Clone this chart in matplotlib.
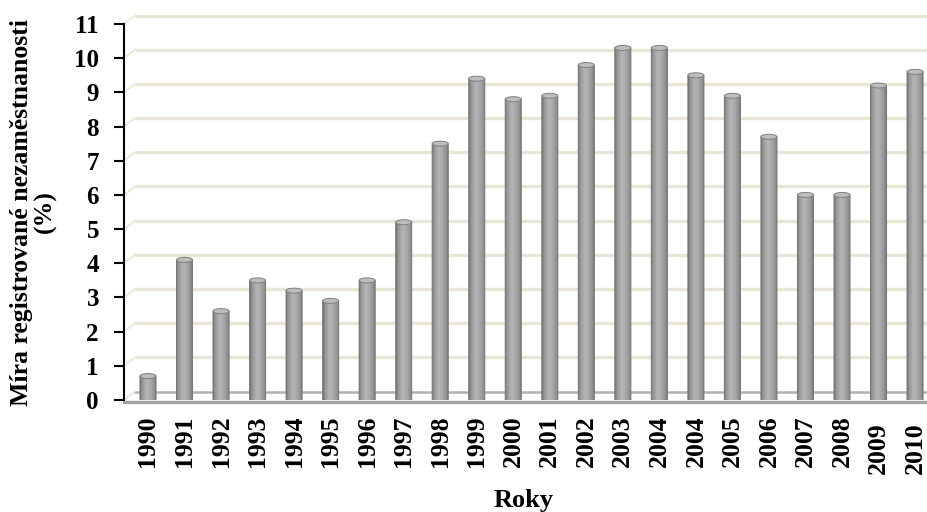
import numpy as np
import matplotlib.pyplot as plt
from matplotlib import transforms
from matplotlib.colors import LinearSegmentedColormap
from matplotlib.patches import Ellipse, PathPatch, Polygon
from matplotlib.path import Path

years = ['1990', '1991', '1992', '1993', '1994', '1995', '1996', '1997',
         '1998', '1999', '2000', '2001', '2002', '2003', '2004', '2004',
         '2005', '2006', '2007', '2008', '2009', '2010']
rates = [0.7, 4.1, 2.6, 3.5, 3.2, 2.9, 3.5, 5.2, 7.5, 9.4, 8.8, 8.9,
         9.8, 10.3, 10.3, 9.5, 8.9, 7.7, 6.0, 6.0, 9.2, 9.6]
yticks = list(range(0, 12))

plt.rcParams['font.family'] = ['Liberation Serif', 'DejaVu Serif']
plt.rcParams['font.weight'] = 'bold'

W, H = 928, 512
fig = plt.figure(figsize=(W / 100, H / 100), dpi=100)
ax = fig.add_axes([124 / W, 112 / H, 802 / W, 376 / H])
x0, x1 = -0.657, 21.3
ax.set_xlim(x0, x1)
ax.set_ylim(0, 11)

# pixel -> data unit factors, used for the fake 3d depth
px_x = 802 / (x1 - x0)
px_y = 376 / 11
dx = 11 / px_x
dy = 8.5 / px_y

# back wall gridlines + short diagonals to the axis
grid_c = '#e9e6d6'
for v in yticks[1:]:
    ax.plot([x0 + dx, x1 + dx], [v + dy, v + dy], color=grid_c, lw=2.4,
            clip_on=False, zorder=0, solid_capstyle='butt')
    ax.plot([x0, x0 + dx], [v, v + dy], color=grid_c, lw=1.2,
            clip_on=False, zorder=0)

# floor
front = -2 / px_y
floor = Polygon([(x0, front), (x1 + dx, front), (x1 + dx, dy), (x0 + dx, dy)],
                closed=True, fc='white', ec='none', zorder=0.5, clip_on=False)
ax.add_patch(floor)
ax.plot([x0 + dx, x1 + dx], [dy, dy], color='#b2b2b2', lw=1.8,
        clip_on=False, zorder=0.6)
ax.plot([x0, x0 + dx], [0, dy], color=grid_c, lw=1.2, clip_on=False, zorder=0.6)

# cylinder bars
cyl = LinearSegmentedColormap.from_list(
    'cyl', [(0, '#747474'), (0.12, '#969696'), (0.4, '#b5b5b5'),
            (0.6, '#acacac'), (0.85, '#929292'), (1, '#737373')])
grad = np.linspace(0, 1, 64).reshape(1, -1)
w = 0.44
cap = 5 / px_y
t = np.linspace(np.pi, 2 * np.pi, 24)
for i, v in enumerate(rates):
    left, right = i - w / 2, i + w / 2
    verts = [(left, v)]
    verts += list(zip(i + w / 2 * np.cos(t), cap / 2 * np.sin(t)))
    verts += [(right, v), (left, v)]
    body = Path(verts, [Path.MOVETO] + [Path.LINETO] * (len(verts) - 2) + [Path.CLOSEPOLY])
    patch = PathPatch(body, fc='none', ec='#777777', lw=0.7, zorder=3)
    ax.add_patch(patch)
    im = ax.imshow(grad, cmap=cyl, extent=[left, right, -cap / 2, v],
                   aspect='auto', zorder=2, interpolation='bilinear')
    im.set_clip_path(patch)
    ax.add_patch(Ellipse((i, v), w, cap, fc='#bdbdbd', ec='#808080',
                         lw=0.7, zorder=4))

ax.plot([x0, x1 + dx], [front, front], color='#a3a3a3', lw=2.4,
        clip_on=False, zorder=5)

ax.set_xlim(x0, x1)
ax.set_ylim(0, 11)

for s in ['top', 'right', 'bottom']:
    ax.spines[s].set_visible(False)
ax.spines['left'].set_linewidth(1.5)
ax.spines['left'].set_zorder(6)

ax.set_yticks(yticks)
ax.tick_params(axis='y', direction='out', length=7, width=1.5, pad=11,
               labelsize=18)
ax.set_xticks(range(len(years)))
ax.set_xticklabels(years, rotation=90)
ax.tick_params(axis='x', length=0, pad=11, labelsize=18.5)

# the last two year labels sit a little lower
shift = transforms.ScaledTranslation(0, -0.07, fig.dpi_scale_trans)
for lab in ax.get_xticklabels()[-2:]:
    lab.set_transform(lab.get_transform() + shift)

ax.set_ylabel('Míra registrované nezaměstnanosti\n(%)', fontsize=18.5,
              fontweight='bold', labelpad=12, linespacing=1.05)
fig.text(524 / W, 1 - 501 / H, 'Roky', ha='center', va='center',
         fontsize=19, fontweight='bold')

fig.savefig('out.png', dpi=100)
